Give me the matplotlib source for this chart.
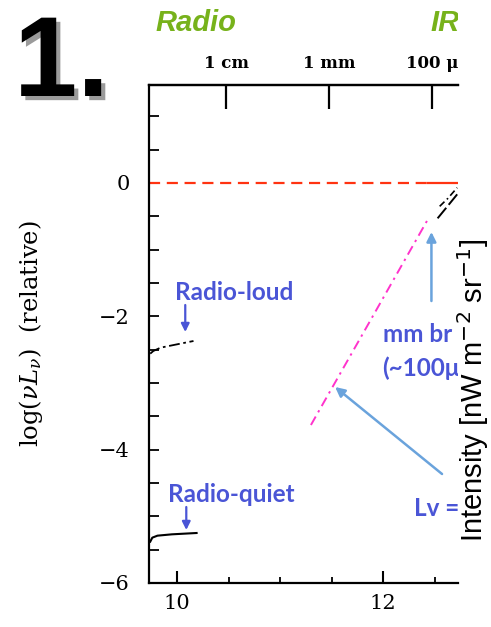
import numpy as np
import matplotlib
matplotlib.use('Agg')
import matplotlib.pyplot as plt
import matplotlib.patheffects as pe
from matplotlib.transforms import Bbox, TransformedBbox


# SED pieces, log(nu) vs log(nu L_nu) relative
radio_loud_x = [9.74, 9.77, 9.84, 10.0, 10.16]
radio_loud_y = [-2.56, -2.52, -2.47, -2.42, -2.37]

radio_quiet_x = [9.74, 9.76, 9.81, 9.95, 10.19]
radio_quiet_y = [-5.38, -5.32, -5.29, -5.27, -5.25]

ir_lower_x = [12.53, 12.62, 12.72]
ir_lower_y = [-0.53, -0.36, -0.17]
ir_upper_x = [12.55, 12.63, 12.72]
ir_upper_y = [-0.35, -0.23, -0.07]

# nu^3 style rise towards the mm break
slope_x = [11.30, 12.43]
slope_y = [-3.63, -0.56]

zero_dash_x = [9.73, 12.44]
zero_solid_x = [12.44, 13.1]

# wavelength marks on the top axis
top_ticks = [np.log10(3e10), np.log10(3e11), np.log10(3e12)]
top_labels = ['1 cm', '1 mm', '100 μ']

blue = '#4a55d6'
light_blue = '#6aa3dc'
green = '#77b21b'

plt.rcParams['font.family'] = 'DejaVu Serif'
plt.rcParams['mathtext.fontset'] = 'dejavuserif'

fig = plt.figure(figsize=(4.91, 6.27), dpi=100)
ax = fig.add_axes([149 / 491, 44 / 627, 309 / 491, 498 / 627])

# panel is cut at this edge
cut = TransformedBbox(Bbox([[0, 0], [458 / 491, 1]]), fig.transFigure)

ax.plot(zero_dash_x, [0, 0], color='#ff3311', lw=1.6, dashes=(5, 3))
ax.plot(zero_solid_x, [0, 0], color='#ff3311', lw=1.6)
ax.plot(slope_x, slope_y, color='#ff33cc', lw=1.4, dashes=(5, 2.5, 1.2, 2.5))
ax.plot(radio_loud_x, radio_loud_y, color='k', lw=1.3, dashes=(6, 2, 1.5, 2))
ax.plot(radio_quiet_x, radio_quiet_y, color='k', lw=1.5)
ax.plot(ir_lower_x, ir_lower_y, color='k', lw=1.4, dashes=(7, 2))
ax.plot(ir_upper_x, ir_upper_y, color='k', lw=1.2, dashes=(4, 2, 1, 2))

ax.set_xlim(9.728, 12.728)
ax.set_ylim(-6, 1.47)

ax.spines['right'].set_visible(False)
for s in ['left', 'bottom', 'top']:
    ax.spines[s].set_linewidth(1.6)

ax.set_xticks([10, 12])
ax.set_xticks(np.arange(10.5, 12.71, 0.5), minor=True)
ax.set_yticks([0, -2, -4, -6])
ax.set_yticks(np.arange(-5.5, 1.01, 0.5), minor=True)
ax.set_yticklabels(['0', '\u22122', '\u22124', '\u22126'])
ax.tick_params(axis='x', which='major', direction='in', length=9, width=1.5,
               labelsize=15, pad=8)
ax.tick_params(axis='x', which='minor', direction='in', length=4, width=1.3)
ax.tick_params(axis='y', which='both', direction='in', length=7, width=1.3,
               labelsize=15, pad=14)

ax.set_ylabel(r'$\log(\nu L_\nu)$  (relative)', fontsize=17.5, labelpad=39)

top = ax.secondary_xaxis('top')
top.set_xticks(top_ticks)
top.set_xticklabels(top_labels, fontsize=12, fontweight='bold')
top.tick_params(direction='in', length=17, width=1.6, pad=9)
top.spines['top'].set_linewidth(1.6)
for lab in top.get_xticklabels():
    lab.set_clip_box(cut)
    lab.set_clip_on(True)

txt = dict(color=blue, fontsize=17.5, fontweight='bold', family='Lato',
           va='center', clip_on=True)
ax.text(9.98, -1.635, 'Radio-loud', **txt)
ax.text(9.913, -4.665, 'Radio-quiet', **txt)
ax.text(12.0, -2.265, 'mm br', **txt)
ax.text(11.99, -2.775, '(~100μ', **txt)
ax.text(12.30, -4.89, 'Lv =', **txt)

arr = dict(arrowstyle='-|>', color=blue, lw=1.6, mutation_scale=12, shrinkA=0, shrinkB=0)
ax.annotate('', xy=(10.08, -2.235), xytext=(10.08, -1.83), arrowprops=arr)
ax.annotate('', xy=(10.09, -5.205), xytext=(10.09, -4.86), arrowprops=arr)

arr2 = dict(arrowstyle='-|>', color=light_blue, lw=1.8, mutation_scale=14, shrinkA=0, shrinkB=0)
ax.annotate('', xy=(12.47, -0.735), xytext=(12.47, -1.77), arrowprops=arr2)
ax.annotate('', xy=(11.535, -3.06), xytext=(12.573, -4.365), arrowprops=arr2)

fig.text(155 / 491, 1 - 23 / 627, 'Radio', color=green, fontsize=21,
         fontweight='bold', style='italic', family='Liberation Sans', va='center')
ir = fig.text(430 / 491, 1 - 23 / 627, 'IR', color=green, fontsize=21,
              fontweight='bold', style='italic', family='Liberation Sans', va='center')
ir.set_clip_box(cut)
ir.set_clip_on(True)

fig.text(14 / 491, 1 - 96 / 627, '1.', fontsize=82, fontweight='bold',
         family='Liberation Sans', va='baseline',
         path_effects=[pe.withSimplePatchShadow(offset=(3, -3), shadow_rgbFace='0.35', alpha=0.6)])

fig.text(491 / 491, 1 - 390 / 627, 'Intensity [nW m$^{-2}$ sr$^{-1}$]', rotation=90,
         fontsize=21, family='Liberation Sans', math_fontfamily='dejavusans',
         ha='right', va='center')

fig.savefig('out.png', dpi=100)
